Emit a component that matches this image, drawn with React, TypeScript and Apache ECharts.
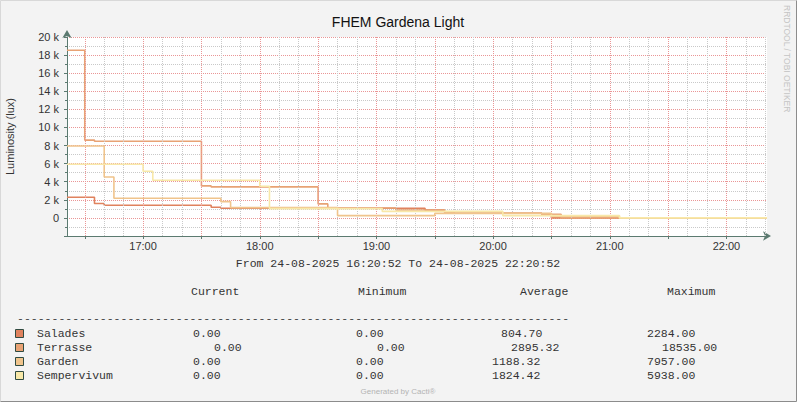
import React, { useEffect, useRef } from "react";
import * as echarts from "echarts";

// Time is expressed in minutes since 16:00 on 24-08-2025
const START = 20 + 52 / 60; // 16:20:52
const END = START + 360; // 22:20:52

const NAMES = ["Salades", "Terrasse", "Garden", "Sempervivum"];
const COLORS = ["#E0825E", "#E8A274", "#F0C48C", "#F8E8A8"];

const saladesT = [START, 35, 40, 95, 100, 205, 215, 220, 265, 270, END];
const saladesV = [2284, 1600, 1400, 1180, 1070, 860, 660, 516, 405, 0, 0];

const terrasseT = [START, 30, 35, 90, 95, 150, 155, 190, 215, 220, 265, 275, END];
const terrasseV = [18535, 8600, 8470, 3540, 3430, 1550, 1100, 880, 627, 516, 405, 0, 0];

const gardenT = [START, 40, 45, 100, 105, 160, 210, 270, 305, END];
const gardenV = [7957, 4530, 2180, 1800, 1140, 258, 500, 150, 0, 0];

const semperT = [START, 60, 65, 120, 125, 183, 245, 305, END];
const semperV = [5938, 5160, 4170, 3500, 1030, 720, 258, 0, 0];

const TIMES = [saladesT, terrasseT, gardenT, semperT];
const VALUES = [saladesV, terrasseV, gardenV, semperV];

const CURRENT = ["0.00", "0.00", "0.00", "0.00"];
const MINIMUM = ["0.00", "0.00", "0.00", "0.00"];
const AVERAGE = ["804.70", "2895.32", "1188.32", "1824.42"];
const MAXIMUM = ["2284.00", "18535.00", "7957.00", "5938.00"];
const HEADERS = ["Current", "Minimum", "Average", "Maximum"];

const HOUR_LABELS = [60, 120, 180, 240, 300, 360];
const TITLE = "FHEM Gardena Light";
const Y_NAME = "Luminosity (lux)";
const RANGE_TEXT = "From 24-08-2025 16:20:52 To 24-08-2025 22:20:52";

const SANS = "'Liberation Sans', Arial, sans-serif";
const MONO = "'Liberation Mono', 'DejaVu Sans Mono', monospace";
const RED = "#EA9696";
const GREY = "#C9C9C9";
const AXIS = "#5B7A70";

export default function App() {
  const ref = useRef<HTMLDivElement>(null);
  useEffect(() => {
    if (!ref.current) return;
    const chart = echarts.init(ref.current, undefined, { renderer: "svg" });

    const gridX: number[] = [];
    for (let m = 30; m < END; m += 10) gridX.push(m);
    const ticks30 = gridX.filter((m) => m % 30 === 0);

    const series: any[] = NAMES.map((n, i) => ({
      name: n,
      type: "line",
      step: "end",
      showSymbol: false,
      symbol: "none",
      silent: true,
      z: 3 + i,
      data: TIMES[i].map((t, j) => [t, VALUES[i][j]]),
      lineStyle: { color: COLORS[i], width: 1.6 },
      itemStyle: { color: COLORS[i] },
    }));
    series.unshift({
      type: "line",
      data: [],
      silent: true,
      z: 1,
      markLine: {
        silent: true,
        symbol: ["none", "none"],
        label: { show: false },
        emphasis: { disabled: true },
        data: gridX.map((v) => ({
          xAxis: v,
          lineStyle: { color: v % 30 === 0 ? RED : GREY, type: [1, 1], width: 1 },
        })),
      },
    });

    const curX = [193, 214, 193, 193];
    const minX = [356, 377, 356, 356];
    const avgX = [501, 511, 492, 492];
    const maxX = [647, 662, 647, 647];
    const headX = [191, 358, 520, 667];

    const graphic: any[] = [
      { type: "polyline", shape: { points: [[0.5, 401.5], [0.5, 0.5], [796.5, 0.5]] }, style: { stroke: "#D8D8D8", fill: "none" } },
      { type: "polyline", shape: { points: [[0.5, 401.5], [796.5, 401.5], [796.5, 0.5]] }, style: { stroke: "#8C8C8C", fill: "none" } },
      { type: "text", x: 398, y: 22, style: { text: TITLE, font: `14px ${SANS}`, fill: "#111", align: "center", verticalAlign: "middle" } },
      { type: "text", x: 398, y: 263, style: { text: RANGE_TEXT, font: `11.5px ${MONO}`, fill: "#333", align: "center", verticalAlign: "middle" } },
      { type: "text", x: 17, y: 318, style: { text: "-".repeat(80), font: `11.5px ${MONO}`, fill: "#444", align: "left", verticalAlign: "middle" } },
      { type: "text", x: 787, y: 5, rotation: -Math.PI / 2, style: { text: "RRDTOOL / TOBI OETIKER", font: `8.5px ${SANS}`, fill: "#C4C4C4", align: "left", verticalAlign: "middle" } },
      { type: "text", x: 398, y: 391, style: { text: "Generated by Cacti®", font: `8px ${SANS}`, fill: "#B4B4B4", align: "center", verticalAlign: "middle" } },
    ];
    HEADERS.forEach((h, k) => {
      graphic.push({ type: "text", x: headX[k], y: 291, style: { text: h, font: `11.5px ${MONO}`, fill: "#333", align: "left", verticalAlign: "middle" } });
    });
    NAMES.forEach((n, i) => {
      const y = 333 + 14 * i;
      graphic.push({ type: "rect", shape: { x: 15.5, y: y - 3.5, width: 8, height: 8 }, style: { fill: COLORS[i], stroke: "#2F4A40", lineWidth: 1 } });
      const cells: [number, string][] = [
        [37, n],
        [curX[i], CURRENT[i]],
        [minX[i], MINIMUM[i]],
        [avgX[i], AVERAGE[i]],
        [maxX[i], MAXIMUM[i]],
      ];
      cells.forEach(([x, t]) => {
        graphic.push({ type: "text", x, y, style: { text: t, font: `11.5px ${MONO}`, fill: "#333", align: "left", verticalAlign: "middle" } });
      });
    });

    chart.setOption({
      animation: false,
      backgroundColor: "#F3F3F3",
      grid: {
        left: 67, right: 30, top: 37, bottom: 166,
        containLabel: false, outerBoundsMode: "none",
        show: true, backgroundColor: "#FFFFFF", borderWidth: 0,
      },
      xAxis: {
        type: "value",
        min: START,
        max: END,
        axisLine: { show: true, onZero: false, lineStyle: { color: AXIS, width: 1 }, symbol: ["none", "arrow"], symbolSize: [7, 8], symbolOffset: [0, 4] },
        axisTick: { show: true, customValues: ticks30, length: 3, lineStyle: { color: AXIS } },
        axisLabel: {
          customValues: HOUR_LABELS,
          formatter: (v: number) => `${16 + Math.round(v / 60)}:00`,
          color: "#333",
          fontSize: 11,
          fontFamily: SANS,
          margin: 4,
        },
        splitLine: { show: false },
      },
      yAxis: {
        type: "value",
        min: -2000,
        max: 20000,
        interval: 2000,
        name: Y_NAME,
        nameLocation: "middle",
        nameGap: 52,
        nameRotate: 90,
        nameTextStyle: { color: "#333", fontSize: 11, fontFamily: SANS },
        axisLine: { show: true, onZero: false, lineStyle: { color: AXIS, width: 1 }, symbol: ["none", "arrow"], symbolSize: [7, 8], symbolOffset: [0, 7] },
        axisTick: { show: true, length: 3, lineStyle: { color: AXIS } },
        minorTick: { show: true, splitNumber: 2, length: 2, lineStyle: { color: AXIS } },
        splitLine: { show: true, lineStyle: { color: RED, type: [1, 1] } },
        minorSplitLine: { show: true, lineStyle: { color: GREY, type: [1, 1] } },
        axisLabel: {
          formatter: (v: number) => (v < 0 ? "" : v === 0 ? "0" : `${v / 1000} k`),
          color: "#333",
          fontSize: 11,
          fontFamily: SANS,
          margin: 8,
        },
      },
      series,
      graphic,
    });
    return () => chart.dispose();
  }, []);
  return <div ref={ref} style={{ position: "fixed", left: 0, top: 0, width: 797, height: 402 }} />;
}
